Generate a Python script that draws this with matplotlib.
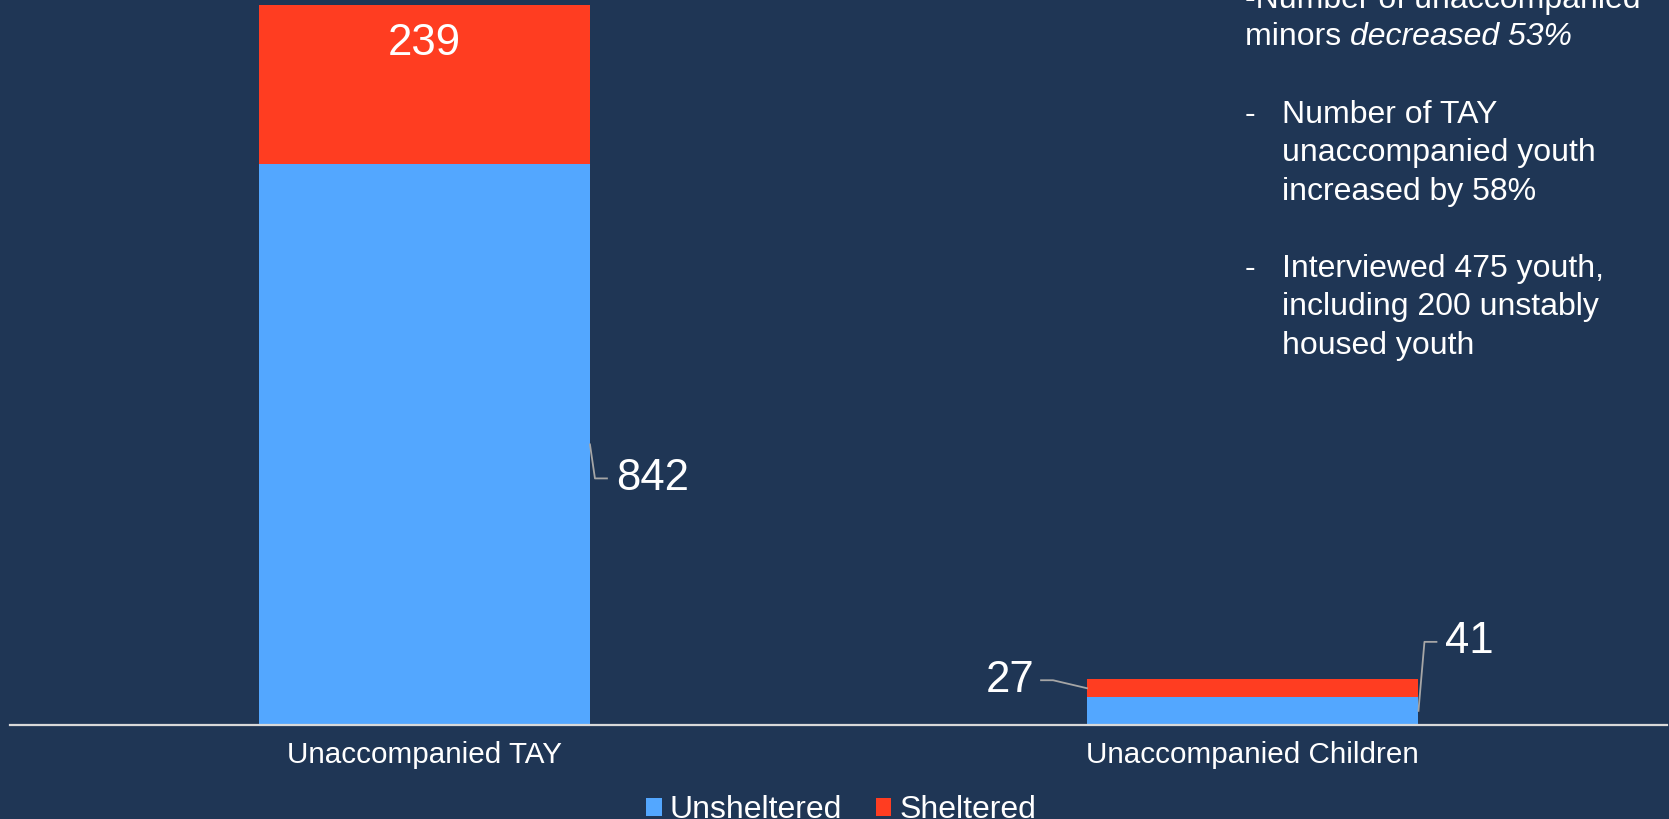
import matplotlib
matplotlib.use("Agg")
import matplotlib.pyplot as plt
import numpy as np

plt.rcParams['font.family'] = ['Liberation Sans', 'DejaVu Sans']

categories = ["Unaccompanied TAY", "Unaccompanied Children"]
unsheltered = [842, 41]
sheltered = [239, 27]
series_names = ["Unsheltered", "Sheltered"]

BG = '#1F3655'
BLUE = '#53A7FF'
RED = '#FF3D21'
LEADER = '#A6A6A6'

W, H = 1669, 819
fig = plt.figure(figsize=(W / 100, H / 100), dpi=100, facecolor=BG)
ax = fig.add_axes([10 / W, (H - 724.5) / H, 1657 / W, 724.5 / H])
ax.set_facecolor(BG)

x = np.arange(len(categories))
bw = 0.4
b1 = ax.bar(x, unsheltered, bw, color=BLUE, label=series_names[0], zorder=2)
b2 = ax.bar(x, sheltered, bw, bottom=unsheltered, color=RED, label=series_names[1], zorder=2)

ax.set_xlim(-0.5, 1.5)
ax.set_ylim(0, 1089)
for s in ['top', 'right', 'left']:
    ax.spines[s].set_visible(False)
ax.spines['bottom'].set_color('#D9D9D9')
ax.spines['bottom'].set_linewidth(1.6)
ax.set_yticks([])
ax.set_xticks(x)
ax.set_xticklabels(categories, fontsize=21.3, color='white')
ax.tick_params(axis='x', length=0, pad=12)


def leader(xd, yd, elbow, end, text, ha):
    # anchor at data point, elbow/end offsets in pixels (display coords)
    px, py = ax.transData.transform((xd, yd))
    xs = [px, px + elbow[0], px + end[0]]
    ys = [py, py + elbow[1], py + end[1]]
    ax.plot(xs, ys, transform=None, color=LEADER, lw=1.3, clip_on=False, zorder=3)
    tx = px + end[0] + (9 if ha == 'left' else -7)
    ax.text(tx, py + end[1], text, transform=None, ha=ha, va='center',
            fontsize=31.5, color='white', zorder=4)


# 842 label (TAY unsheltered)
leader(x[0] + bw / 2, unsheltered[0] / 2, (5, -34), (17, -34), str(unsheltered[0]), 'left')
# 41 label (children unsheltered)
leader(x[1] + bw / 2, unsheltered[1] / 2, (6, 69), (18, 69), str(unsheltered[1]), 'left')
# 27 label (children sheltered)
leader(x[1] - bw / 2, unsheltered[1] + sheltered[1] / 2, (-34, 8), (-46, 8), str(sheltered[1]), 'right')
# 239 label inside bar
ax.annotate(str(sheltered[0]), xy=(x[0], unsheltered[0] + sheltered[0]),
            xytext=(0, -38), textcoords='offset pixels', ha='center', va='center',
            fontsize=31.5, color='white', zorder=4)

# side notes
def ftxt(px, py, s, **kw):
    return fig.text(px / W, 1 - py / H, s, ha='left', va='baseline', fontsize=23,
                    color='white', **kw)

ftxt(1245, 8, "-Number of unaccompanied")
m = ftxt(1245, 45, "minors ")
fig.canvas.draw()
mx = m.get_window_extent().x1
ftxt(mx, 45, "decreased 53%", style='italic')
ftxt(1245, 123, "-")
ftxt(1282, 123, "Number of TAY")
ftxt(1282, 161.5, "unaccompanied youth")
ftxt(1282, 200, "increased by 58%")
ftxt(1245, 277, "-")
ftxt(1282, 277, "Interviewed 475 youth,")
ftxt(1282, 315.5, "including 200 unstably")
ftxt(1282, 354, "housed youth")

leg = fig.legend(handles=[b1, b2], labels=series_names, loc='center',
                 bbox_to_anchor=(841 / W, (H - 810) / H), ncol=2, frameon=False,
                 fontsize=23, handlelength=0.5, handleheight=0.5,
                 handletextpad=0.25, columnspacing=1.05, borderpad=0)
for t in leg.get_texts():
    t.set_color('white')

fig.savefig("out.png", dpi=100, facecolor=BG)
